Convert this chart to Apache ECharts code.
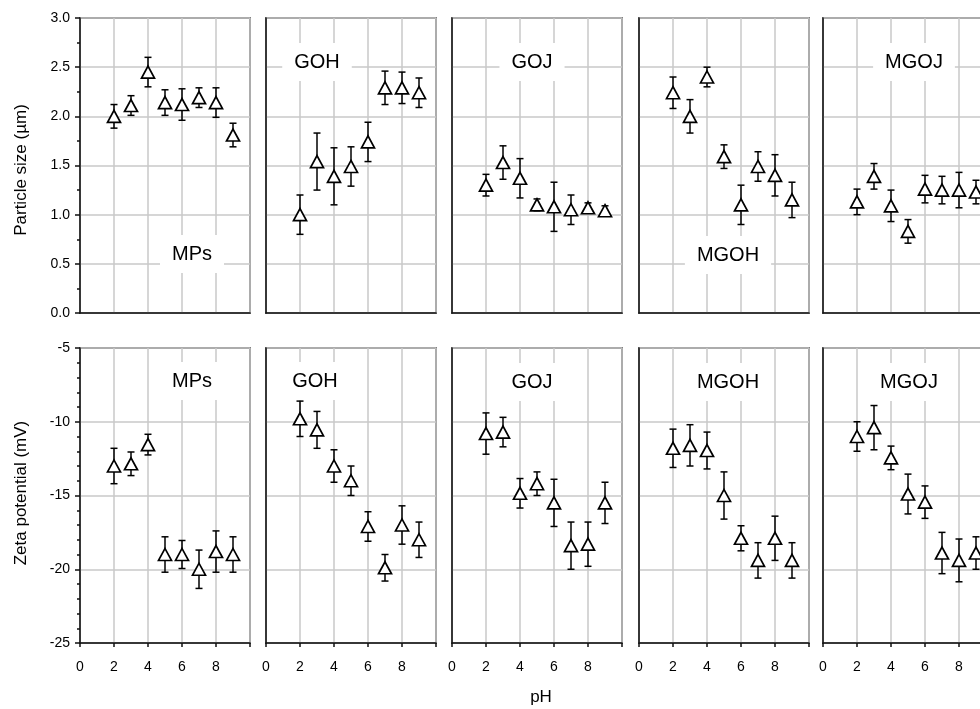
<!DOCTYPE html>
<html>
<head>
<meta charset="utf-8">
<script src="https://cdn.jsdelivr.net/npm/echarts@6/dist/echarts.min.js"></script>
<style>html,body{margin:0;padding:0;background:#fff;}#c{width:980px;height:709px;}</style>
</head>
<body>
<div id="c"></div>
<script>
// ---------- data ----------
const pH = [2, 3, 4, 5, 6, 7, 8, 9];
const samples = ['MPs', 'GOH', 'GOJ', 'MGOH', 'MGOJ'];
const sizeTicks = [0, 0.5, 1.0, 1.5, 2.0, 2.5, 3.0];
const zetaTicks = [-25, -20, -15, -10, -5];
const pHTickLabels = [0, 2, 4, 6, 8];

const sizeMPs  = [2.00, 2.11, 2.45, 2.14, 2.12, 2.19, 2.14, 1.81];
const sizeErrMPs  = [0.12, 0.10, 0.15, 0.13, 0.16, 0.10, 0.15, 0.12];
const sizeGOH  = [1.00, 1.54, 1.39, 1.49, 1.74, 2.29, 2.29, 2.24];
const sizeErrGOH  = [0.20, 0.29, 0.29, 0.20, 0.20, 0.17, 0.16, 0.15];
const sizeGOJ  = [1.30, 1.53, 1.37, 1.10, 1.08, 1.05, 1.07, 1.04];
const sizeErrGOJ  = [0.11, 0.17, 0.20, 0.06, 0.25, 0.15, 0.05, 0.05];
const sizeMGOH = [2.24, 2.00, 2.40, 1.59, 1.10, 1.49, 1.40, 1.15];
const sizeErrMGOH = [0.16, 0.17, 0.10, 0.12, 0.20, 0.15, 0.21, 0.18];
const sizeMGOJ = [1.13, 1.39, 1.09, 0.83, 1.26, 1.25, 1.25, 1.23];
const sizeErrMGOJ = [0.13, 0.13, 0.16, 0.12, 0.14, 0.14, 0.18, 0.12];

const zetaMPs  = [-13.0, -12.85, -11.55, -19.0, -19.0, -20.0, -18.8, -19.0];
const zetaErrMPs  = [1.2, 0.8, 0.7, 1.2, 0.95, 1.3, 1.4, 1.2];
const zetaGOH  = [-9.8, -10.55, -13.0, -14.0, -17.1, -19.9, -17.0, -18.0];
const zetaErrGOH  = [1.2, 1.25, 1.1, 1.0, 1.0, 0.9, 1.3, 1.2];
const zetaGOJ  = [-10.8, -10.7, -14.85, -14.2, -15.5, -18.4, -18.3, -15.5];
const zetaErrGOJ  = [1.4, 1.0, 1.0, 0.8, 1.6, 1.6, 1.5, 1.4];
const zetaMGOH = [-11.8, -11.6, -11.95, -15.0, -17.9, -19.4, -17.9, -19.4];
const zetaErrMGOH = [1.3, 1.4, 1.25, 1.6, 0.85, 1.2, 1.5, 1.2];
const zetaMGOJ = [-11.0, -10.4, -12.45, -14.9, -15.45, -18.9, -19.4, -18.9];
const zetaErrMGOJ = [1.0, 1.5, 0.8, 1.35, 1.1, 1.4, 1.45, 1.1];

const sizeMeans = [sizeMPs, sizeGOH, sizeGOJ, sizeMGOH, sizeMGOJ];
const sizeErrs  = [sizeErrMPs, sizeErrGOH, sizeErrGOJ, sizeErrMGOH, sizeErrMGOJ];
const zetaMeans = [zetaMPs, zetaGOH, zetaGOJ, zetaMGOH, zetaMGOJ];
const zetaErrs  = [zetaErrMPs, zetaErrGOH, zetaErrGOJ, zetaErrMGOH, zetaErrMGOJ];

// ---------- layout ----------
const FONT = '"Liberation Sans", Arial, sans-serif';
const panelLeft = [80, 266, 452, 639, 823];
const panelW = 170;
const topLabelPos = [[192, 254], [317, 62], [532, 62], [728, 255], [914, 62]];
const botLabelPos = [[192, 381], [315, 381], [532, 382], [728, 382], [909, 382]];

const grids = [], xAxes = [], yAxes = [], series = [], graphics = [];

function errRender(params, api) {
  const x = api.value(0), lo = api.value(1), hi = api.value(2);
  const a = api.coord([x, hi]), b = api.coord([x, lo]);
  const w = 3.5;
  const st = { stroke: '#000', lineWidth: 1.5 };
  return { type: 'group', children: [
    { type: 'line', shape: { x1: a[0], y1: a[1], x2: b[0], y2: b[1] }, style: st },
    { type: 'line', shape: { x1: a[0] - w, y1: a[1], x2: a[0] + w, y2: a[1] }, style: st },
    { type: 'line', shape: { x1: b[0] - w, y1: b[1], x2: b[0] + w, y2: b[1] }, style: st }
  ]};
}

for (let row = 0; row < 2; row++) {
  for (let i = 0; i < 5; i++) {
    const idx = row * 5 + i;
    grids.push({
      left: panelLeft[i], width: panelW,
      top: row === 0 ? 18 : 348,
      height: 295,
      show: true, borderColor: '#222', borderWidth: 1.5, backgroundColor: 'transparent',
      containLabel: false, outerBoundsMode: 'none'
    });
    xAxes.push({
      type: 'value', gridIndex: idx, min: 0, max: 10, interval: 2,
      axisLine: { show: true, lineStyle: { color: '#111', width: 1.5 } },
      axisTick: { show: row === 1, length: 4, inside: false, lineStyle: { color: '#111', width: 1.5 } },
      axisLabel: {
        show: row === 1, margin: 17, fontSize: 14, fontFamily: FONT, color: '#000',
        formatter: v => (pHTickLabels.indexOf(v) >= 0 ? String(v) : '')
      },
      splitLine: { show: true, lineStyle: { color: '#c8c8c8', width: 1.5 } }
    });
    const isSize = row === 0;
    yAxes.push({
      type: 'value', gridIndex: idx,
      min: isSize ? sizeTicks[0] : zetaTicks[0],
      max: isSize ? sizeTicks[sizeTicks.length - 1] : zetaTicks[zetaTicks.length - 1],
      interval: isSize ? 0.5 : 5,
      axisLine: { show: true, lineStyle: { color: '#111', width: 1.5 } },
      axisTick: { show: i === 0, length: 5, lineStyle: { color: '#111', width: 1.5 } },
      minorTick: { show: i === 0, splitNumber: isSize ? 2 : 5, length: 3, lineStyle: { color: '#111', width: 1.5 } },
      axisLabel: {
        show: i === 0, margin: 10, fontSize: 14, fontFamily: FONT, color: '#000',
        formatter: v => (isSize ? v.toFixed(1) : String(v))
      },
      splitLine: { show: true, lineStyle: { color: '#c8c8c8', width: 1.5 } }
    });
    const means = isSize ? sizeMeans[i] : zetaMeans[i];
    const errs = isSize ? sizeErrs[i] : zetaErrs[i];
    series.push({
      type: 'custom', xAxisIndex: idx, yAxisIndex: idx, z: 3,
      renderItem: errRender,
      encode: { x: 0, y: [1, 2] },
      data: pH.map((p, k) => [p, means[k] - errs[k], means[k] + errs[k]]),
      silent: true
    });
    series.push({
      type: 'scatter', xAxisIndex: idx, yAxisIndex: idx, z: 4,
      symbol: 'triangle', symbolSize: [13, 12],
      itemStyle: { color: '#fff', borderColor: '#000', borderWidth: 1.7, opacity: 1 },
      data: pH.map((p, k) => [p, means[k]]),
      silent: true
    });
    const pos = isSize ? topLabelPos[i] : botLabelPos[i];
    graphics.push({
      type: 'text', x: pos[0], y: pos[1], z: 10,
      style: {
        text: samples[i], font: '20px ' + FONT, fill: '#000',
        align: 'center', verticalAlign: 'middle',
        backgroundColor: '#fff', padding: [9, 12]
      }
    });
  }
}

graphics.push({
  type: 'text', x: 21, y: 170, rotation: Math.PI / 2, z: 10,
  style: { text: 'Particle size (µm)', font: '17px ' + FONT, fill: '#000', align: 'center', verticalAlign: 'middle' }
});
graphics.push({
  type: 'text', x: 21, y: 493, rotation: Math.PI / 2, z: 10,
  style: { text: 'Zeta potential (mV)', font: '17px ' + FONT, fill: '#000', align: 'center', verticalAlign: 'middle' }
});
graphics.push({
  type: 'text', x: 541, y: 697, z: 10,
  style: { text: 'pH', font: '17px ' + FONT, fill: '#000', align: 'center', verticalAlign: 'middle' }
});

const chart = echarts.init(document.getElementById('c'), null, { renderer: 'canvas' });
chart.setOption({
  animation: false,
  backgroundColor: '#fff',
  grid: grids, xAxis: xAxes, yAxis: yAxes, series: series, graphic: graphics
});
</script>
</body>
</html>
